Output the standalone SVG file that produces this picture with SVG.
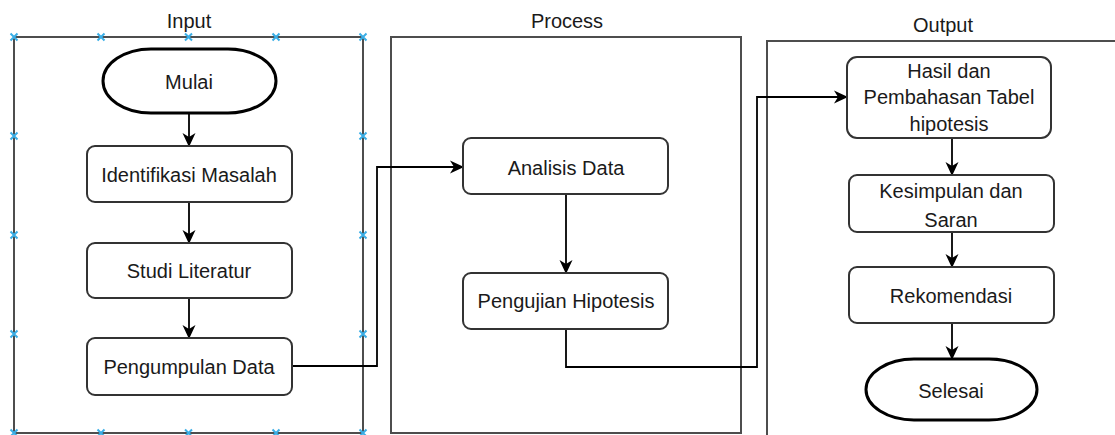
<svg xmlns="http://www.w3.org/2000/svg" width="1115" height="435" viewBox="0 0 1115 435">
  <style>
    .lane { fill: none; stroke: #4d4d4d; stroke-width: 2; }
    .box { fill: #fff; stroke: #333; stroke-width: 2; }
    .term { fill: #fff; stroke: #000; stroke-width: 3; }
    .lbl { font-family: "Liberation Sans", Arial, sans-serif; font-size: 20px; fill: #1a1a1a; text-anchor: middle; }
    .edge { fill: none; stroke: #000; stroke-width: 1.8; }
    .mk { stroke: #3aaee6; stroke-width: 2; fill: none; }
  </style>
  <defs>
    <marker id="arrow" markerUnits="userSpaceOnUse" markerWidth="14" markerHeight="14" viewBox="0 0 14 14" refX="13" refY="7" orient="auto">
      <path d="M0,0.5 L14,7 L0,13.5 L4,7 z" fill="#000"/>
    </marker>
    <g id="x">
      <path class="mk" d="M-3.5,-3.5 L3.5,3.5 M-3.5,3.5 L3.5,-3.5"/>
    </g>
  </defs>

  <!-- swimlanes -->
  <g id="lane-input">
    <rect class="lane" x="14" y="37" width="349" height="396"/>
    <text class="lbl" x="189" y="28">Input</text>
  </g>
  <g id="lane-process">
    <rect class="lane" x="391" y="37" width="350" height="396"/>
    <text class="lbl" x="567" y="28">Process</text>
  </g>
  <g id="lane-output">
    <rect class="lane" x="767" y="41" width="400" height="420"/>
    <text class="lbl" x="943" y="32">Output</text>
  </g>

  <!-- selection handles on the input lane -->
  <g id="handles">
    <use href="#x" x="14" y="37"/><use href="#x" x="101" y="37"/><use href="#x" x="188.5" y="37"/><use href="#x" x="276" y="37"/><use href="#x" x="363" y="37"/>
    <use href="#x" x="14" y="136"/><use href="#x" x="363" y="136"/>
    <use href="#x" x="14" y="235"/><use href="#x" x="363" y="235"/>
    <use href="#x" x="14" y="334"/><use href="#x" x="363" y="334"/>
    <use href="#x" x="14" y="433"/><use href="#x" x="101" y="433"/><use href="#x" x="188.5" y="433"/><use href="#x" x="276" y="433"/><use href="#x" x="363" y="433"/>
  </g>

  <!-- connectors -->
  <g id="connectors">
    <path class="edge" d="M189,113 L189,146" marker-end="url(#arrow)"/>
    <path class="edge" d="M189,202 L189,243" marker-end="url(#arrow)"/>
    <path class="edge" d="M189,298 L189,338" marker-end="url(#arrow)"/>
    <path class="edge" d="M292,366 L377,366 L377,167 L463,167" marker-end="url(#arrow)"/>
    <path class="edge" d="M566,194 L566,273" marker-end="url(#arrow)"/>
    <path class="edge" d="M566,329 L566,367 L757,367 L757,97 L847,97" marker-end="url(#arrow)"/>
    <path class="edge" d="M952,138 L952,175" marker-end="url(#arrow)"/>
    <path class="edge" d="M952,232 L952,267" marker-end="url(#arrow)"/>
    <path class="edge" d="M952,323 L952,359" marker-end="url(#arrow)"/>
  </g>

  <!-- nodes -->
  <g id="mulai">
    <rect class="term" x="103" y="49" width="173" height="64" rx="48" ry="32"/>
    <text class="lbl" x="189" y="89">Mulai</text>
  </g>
  <g id="identifikasi">
    <rect class="box" x="87" y="146" width="205" height="56" rx="8"/>
    <text class="lbl" x="189" y="182">Identifikasi Masalah</text>
  </g>
  <g id="studi">
    <rect class="box" x="87" y="243" width="205" height="55" rx="8"/>
    <text class="lbl" x="189" y="278">Studi Literatur</text>
  </g>
  <g id="pengumpulan">
    <rect class="box" x="87" y="338" width="205" height="57" rx="8"/>
    <text class="lbl" x="189" y="374">Pengumpulan Data</text>
  </g>
  <g id="analisis">
    <rect class="box" x="463" y="138" width="205" height="56" rx="8"/>
    <text class="lbl" x="566" y="175">Analisis Data</text>
  </g>
  <g id="pengujian">
    <rect class="box" x="463" y="273" width="205" height="56" rx="8"/>
    <text class="lbl" x="566" y="308">Pengujian Hipotesis</text>
  </g>
  <g id="hasil">
    <rect class="box" x="847" y="57" width="204" height="81" rx="10"/>
    <text class="lbl" x="949" y="78">Hasil dan</text>
    <text class="lbl" x="949" y="104">Pembahasan Tabel</text>
    <text class="lbl" x="949" y="131">hipotesis</text>
  </g>
  <g id="kesimpulan">
    <rect class="box" x="849" y="175" width="205" height="57" rx="8"/>
    <text class="lbl" x="951" y="198">Kesimpulan dan</text>
    <text class="lbl" x="951" y="227">Saran</text>
  </g>
  <g id="rekomendasi">
    <rect class="box" x="849" y="267" width="205" height="56" rx="8"/>
    <text class="lbl" x="951" y="303">Rekomendasi</text>
  </g>
  <g id="selesai">
    <rect class="term" x="866" y="359" width="171" height="61" rx="48" ry="30.5"/>
    <text class="lbl" x="951" y="398">Selesai</text>
  </g>
</svg>
